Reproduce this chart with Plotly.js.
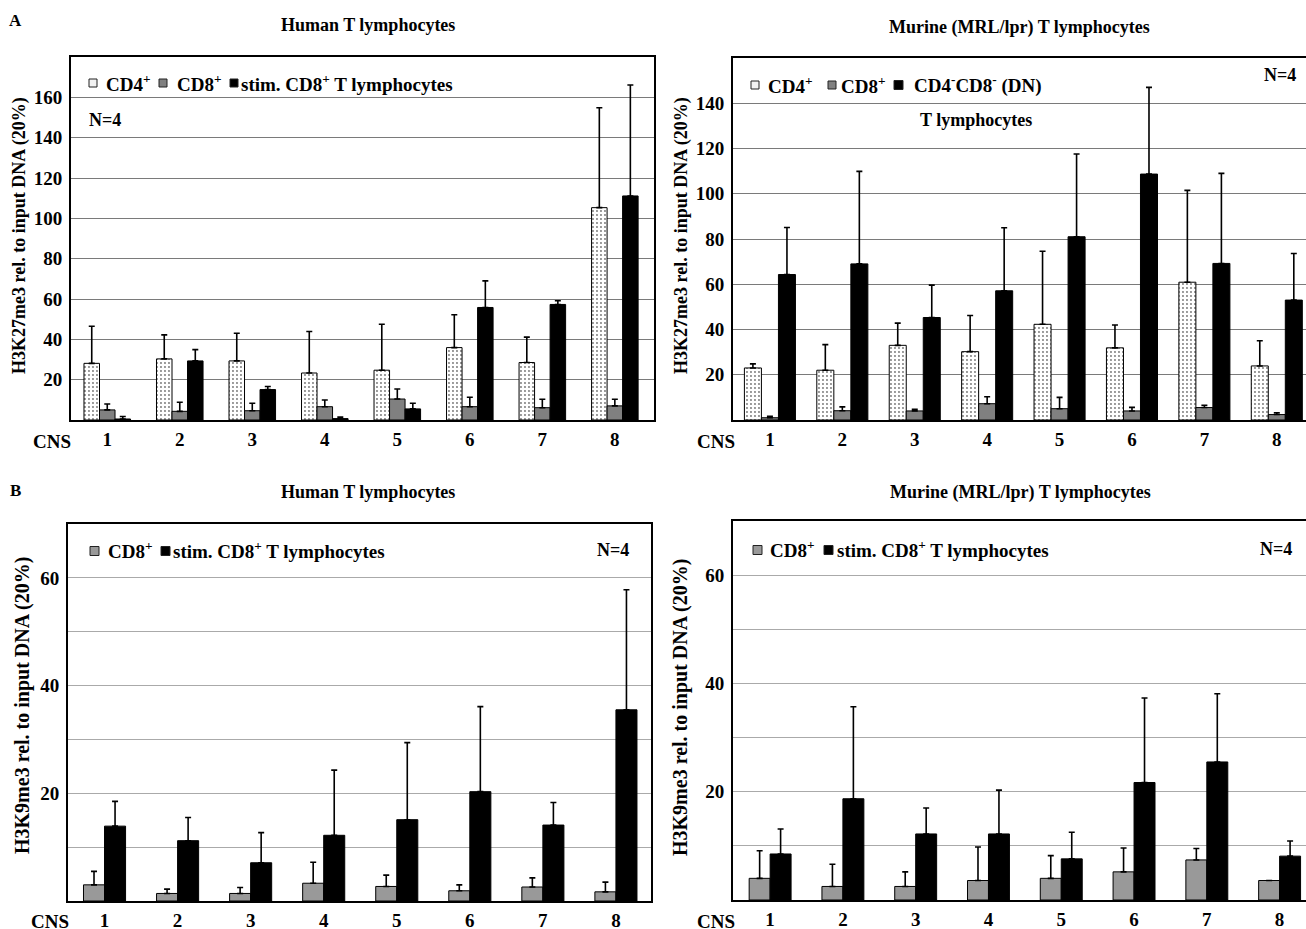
<!DOCTYPE html>
<html>
<head>
<meta charset="utf-8">
<script src="https://cdn.plot.ly/plotly-3.0.1.min.js"></script>
<style>html,body{margin:0;padding:0;overflow:hidden;background:#fff}</style>
</head>
<body>
<div id="chart"></div>
<script>
// ---------- DATA ----------
const CNS = ['1','2','3','4','5','6','7','8'];

// A, Human: H3K27me3
const A_hum_CD4     = [28.1, 30.3, 29.3, 23.3, 24.7, 35.9, 28.5, 105.3];
const A_hum_CD4_err = [18.4, 11.9, 13.7, 20.6, 22.8, 16.3, 12.6, 49.5];
const A_hum_CD8     = [5.0, 4.3, 4.6, 6.6, 10.4, 6.6, 6.1, 7.0];
const A_hum_CD8_err = [2.9, 4.5, 3.7, 3.3, 5.0, 4.7, 4.2, 3.3];
const A_hum_stim    = [0.5, 29.3, 15.1, 0.7, 5.5, 55.8, 57.3, 111.1];
const A_hum_stim_err= [1.2, 5.6, 1.5, 0.8, 2.8, 13.2, 1.8, 55.0];

// A, Murine: H3K27me3
const A_mur_CD4     = [23.0, 22.0, 33.0, 30.2, 42.3, 31.9, 60.9, 23.9];
const A_mur_CD4_err = [1.8, 11.3, 9.8, 16.0, 32.3, 10.1, 40.6, 11.1];
const A_mur_CD8     = [1.0, 4.1, 4.0, 7.2, 5.0, 4.0, 5.5, 2.4];
const A_mur_CD8_err = [0.6, 1.7, 0.7, 3.1, 5.0, 1.6, 1.0, 0.8];
const A_mur_DN      = [64.3, 69.0, 45.3, 57.1, 81.0, 108.7, 69.2, 53.0];
const A_mur_DN_err  = [20.8, 40.9, 14.3, 27.9, 36.6, 38.3, 39.8, 20.6];

// B, Human: H3K9me3
const B_hum_CD8     = [3.0, 1.4, 1.4, 3.3, 2.7, 1.9, 2.6, 1.7];
const B_hum_CD8_err = [2.5, 0.8, 1.1, 3.9, 2.1, 1.1, 1.7, 1.8];
const B_hum_stim    = [13.9, 11.2, 7.1, 12.2, 15.1, 20.3, 14.1, 35.5];
const B_hum_stim_err= [4.6, 4.3, 5.6, 12.1, 14.3, 15.8, 4.2, 22.3];

// B, Murine: H3K9me3
const B_mur_CD8     = [4.0, 2.5, 2.5, 3.6, 4.0, 5.2, 7.4, 3.6];
const B_mur_CD8_err = [5.1, 4.1, 2.7, 6.2, 4.2, 4.4, 2.1, 0];
const B_mur_stim    = [8.5, 18.7, 12.2, 12.2, 7.6, 21.7, 25.5, 8.1];
const B_mur_stim_err= [4.6, 17.0, 4.8, 8.1, 4.9, 15.6, 12.6, 2.8];

const A_ticks = [20, 40, 60, 80, 100, 120, 140, 160];
const B_ticks = [20, 40, 60];

// ---------- LAYOUT HELPERS ----------
const W = 1316, H = 929;
const fx = p => p / W;
const fy = p => 1 - p / H;
const FONT = 'Liberation Serif, Times New Roman, serif';
const zeros = CNS.map(() => 0);

function bar(y, err, xa, ya, color, w, off, extra) {
  return {
    type: 'bar', x: CNS, y: y, xaxis: xa, yaxis: ya,
    width: w, offset: off, showlegend: false,
    marker: Object.assign({color: color, line: {color: '#000', width: 1}}, extra || {}),
    error_y: {type: 'data', array: err, arrayminus: zeros, symmetric: false,
              color: '#000', thickness: 1.6, width: 3},
    hoverinfo: 'y'
  };
}
const dots = {pattern: {shape: '.', bgcolor: '#ffffff', fgcolor: '#777', size: 4, solidity: 0.18}};

const wA1 = 0.214, wA2 = 0.235, wB = 0.288;
const traces = [
  bar(A_hum_CD4, A_hum_CD4_err, 'x', 'y', '#ffffff', wA1, -1.5*wA1, dots),
  bar(A_hum_CD8, A_hum_CD8_err, 'x', 'y', '#808080', wA1, -0.5*wA1),
  bar(A_hum_stim, A_hum_stim_err, 'x', 'y', '#000000', wA1, 0.5*wA1),
  bar(A_mur_CD4, A_mur_CD4_err, 'x2', 'y2', '#ffffff', wA2, -1.5*wA2, dots),
  bar(A_mur_CD8, A_mur_CD8_err, 'x2', 'y2', '#808080', wA2, -0.5*wA2),
  bar(A_mur_DN, A_mur_DN_err, 'x2', 'y2', '#000000', wA2, 0.5*wA2),
  bar(B_hum_CD8, B_hum_CD8_err, 'x3', 'y3', '#999999', wB, -wB),
  bar(B_hum_stim, B_hum_stim_err, 'x3', 'y3', '#000000', wB, 0),
  bar(B_mur_CD8, B_mur_CD8_err, 'x4', 'y4', '#999999', wB, -wB),
  bar(B_mur_stim, B_mur_stim_err, 'x4', 'y4', '#000000', wB, 0)
];

function xax(d, range, anchor) {
  return {domain: d, range: range, type: 'category', showgrid: false, zeroline: false,
          showline: true, mirror: true, linecolor: '#000', linewidth: 2, anchor: anchor,
          ticks: '', ticklabelstandoff: 1, tickfont: {size: 19}, fixedrange: true};
}
function yax(d, range, tv, gc, anchor, minorStep) {
  const a = {domain: d, range: range, tickvals: tv, ticktext: tv.map(String), showgrid: true,
          gridcolor: gc, gridwidth: 1, zeroline: false, showline: true, mirror: true,
          linecolor: '#000', linewidth: 2, ticks: '', ticklabelstandoff: 3,
          tickfont: {size: 19}, anchor: anchor, fixedrange: true};
  if (minorStep) a.minor = {dtick: minorStep, tick0: 0, showgrid: true, gridcolor: gc, gridwidth: 1, ticks: ''};
  return a;
}

const ann = [];
function txt(x, y, text, size, xanchor, extra) {
  ann.push(Object.assign({xref: 'paper', yref: 'paper', x: fx(x), y: fy(y), text: text,
    showarrow: false, xanchor: xanchor || 'center', yanchor: 'middle',
    font: {size: size, family: FONT, color: '#000', weight: 'bold'}}, extra || {}));
}
const shapes = [];
function sq(x0, x1, yc, fill) {
  const h = (x1 - x0) / 2;
  shapes.push({type: 'rect', xref: 'paper', yref: 'paper', x0: fx(x0), x1: fx(x1),
    y0: fy(yc + h), y1: fy(yc - h), fillcolor: fill, line: {color: '#222', width: 1}});
}

// panel letters and titles
txt(15, 20, 'A', 17);
txt(15, 490, 'B', 17);
txt(368, 25, 'Human T lymphocytes', 18);
txt(1019, 27, 'Murine (MRL/lpr) T lymphocytes', 18);
txt(368, 492, 'Human T lymphocytes', 18);
txt(1020, 492, 'Murine (MRL/lpr) T lymphocytes', 18);

// y-axis titles
txt(19, 236, 'H3K27me3 rel. to input DNA (20%)', 18, 'center', {textangle: -90});
txt(681, 236, 'H3K27me3 rel. to input DNA (20%)', 18, 'center', {textangle: -90});
txt(22, 706, 'H3K9me3 rel. to input DNA (20%)', 20, 'center', {textangle: -90});
txt(680, 708, 'H3K9me3 rel. to input DNA (20%)', 20, 'center', {textangle: -90});

// CNS labels
txt(52, 441, 'CNS', 19);
txt(716, 441, 'CNS', 19);
txt(50, 921, 'CNS', 19);
txt(716, 921, 'CNS', 19);

// N=4 and subtitle
txt(87, 120, 'N=4', 18, 'left');
txt(1298, 75, 'N=4', 18, 'right');
txt(631, 550, 'N=4', 18, 'right');
txt(1294, 549, 'N=4', 18, 'right');
txt(976, 120, 'T lymphocytes', 18);

// legends (top-left)
sq(89, 97, 83, '#f2f2f2');
txt(104, 83, 'CD4<sup>+</sup>', 19, 'left');
sq(159, 167, 83, '#808080');
txt(175, 83, 'CD8<sup>+</sup>', 19, 'left');
sq(230, 238, 83, '#000000');
txt(239, 83, 'stim. CD8<sup>+</sup> T lymphocytes', 19, 'left');
// legends (top-right)
sq(751, 759, 85, '#f2f2f2');
txt(766, 85, 'CD4<sup>+</sup>', 19, 'left');
sq(828, 836, 85, '#808080');
txt(839, 85, 'CD8<sup>+</sup>', 19, 'left');
sq(894, 903, 85, '#000000');
txt(912, 85, 'CD4<sup>-</sup>CD8<sup>-</sup> (DN)', 19, 'left');
// legends (bottom-left)
sq(90, 99, 551, '#999999');
txt(106, 550, 'CD8<sup>+</sup>', 19, 'left');
sq(161, 170, 551, '#000000');
txt(171, 550, 'stim. CD8<sup>+</sup> T lymphocytes', 19, 'left');
// legends (bottom-right)
sq(753, 762, 550, '#999999');
txt(768, 549, 'CD8<sup>+</sup>', 19, 'left');
sq(824, 833, 550, '#000000');
txt(835, 549, 'stim. CD8<sup>+</sup> T lymphocytes', 19, 'left');

const layout = {
  width: W, height: H, margin: {l: 0, r: 0, t: 0, b: 0},
  paper_bgcolor: '#fff', plot_bgcolor: '#fff',
  font: {family: FONT, size: 19, color: '#000', weight: 'bold'},
  barmode: 'overlay', showlegend: false,
  xaxis:  xax([fx(71), fx(654)], [-0.5, 7.54], 'y'),
  yaxis:  yax([fy(420), fy(57)], [0, 180], A_ticks, '#7a7a7a', 'x'),
  xaxis2: xax([fx(733), fx(1313)], [-0.51, 7.5], 'y2'),
  yaxis2: yax([fy(420), fy(58)], [0, 160], A_ticks.slice(0, 7), '#7a7a7a', 'x2'),
  xaxis3: xax([fx(68), fx(651)], [-0.5, 7.48], 'y3'),
  yaxis3: yax([fy(901), fy(524)], [0, 70], B_ticks, '#aaaaaa', 'x3', 10),
  xaxis4: xax([fx(733), fx(1316)], [-0.51, 7.5], 'y4'),
  yaxis4: yax([fy(900), fy(521)], [0, 70], B_ticks, '#aaaaaa', 'x4', 10),
  annotations: ann, shapes: shapes
};

Plotly.newPlot('chart', traces, layout, {displayModeBar: false, staticPlot: true});
</script>
</body>
</html>
